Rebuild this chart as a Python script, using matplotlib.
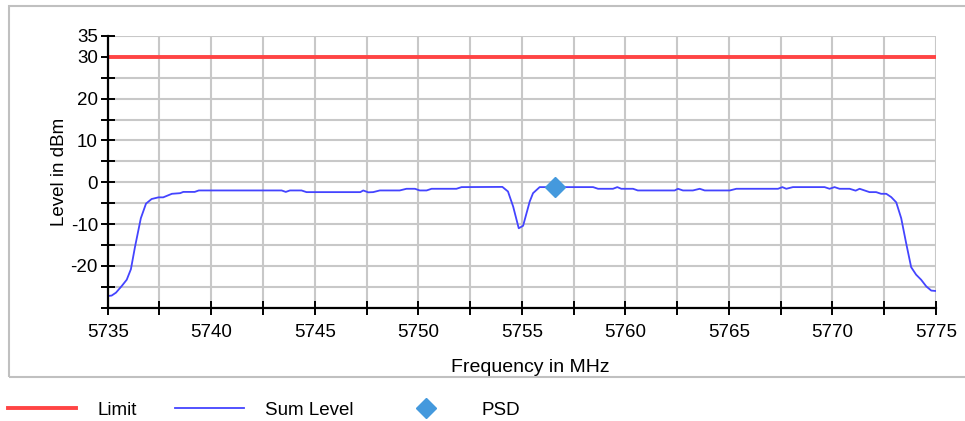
import matplotlib
matplotlib.use("Agg")
import matplotlib.pyplot as plt
from matplotlib.lines import Line2D
from matplotlib.patches import Rectangle

plt.rcParams['font.family'] = ['Liberation Sans', 'DejaVu Sans']

# Data
freq_mhz = [5735.0, 5735.19, 5735.4, 5735.68, 5735.92, 5736.12, 5736.32, 5736.6, 5736.85,
            5737.12, 5737.45, 5737.68, 5738.1, 5738.5, 5738.65, 5739.2, 5739.4, 5743.4,
            5743.6, 5743.8, 5744.36, 5744.6, 5747.2, 5747.34, 5747.58, 5747.82, 5748.14,
            5749.1, 5749.43, 5749.84, 5750.07, 5750.4, 5750.64, 5751.84, 5752.09, 5754.06,
            5754.33, 5754.58, 5754.85, 5755.06, 5755.38, 5755.54, 5755.86, 5758.44, 5758.68,
            5759.4, 5759.61, 5759.8, 5760.37, 5760.6, 5762.38, 5762.54, 5762.78, 5763.26,
            5763.59, 5763.83, 5765.04, 5765.36, 5767.37, 5767.58, 5767.77, 5768.09, 5769.62,
            5769.86, 5770.1, 5770.34, 5770.83, 5771.12, 5771.31, 5771.79, 5772.11, 5772.35,
            5772.6, 5772.84, 5773.08, 5773.32, 5773.56, 5773.8, 5774.04, 5774.28, 5774.53,
            5774.77, 5775.0]
sum_level = [-27.2, -27.1, -26.4, -24.8, -23.3, -20.8, -15.4, -8.6, -5.1,
             -4.0, -3.6, -3.6, -2.75, -2.6, -2.3, -2.3, -1.95, -1.95,
             -2.3, -1.95, -1.95, -2.35, -2.35, -1.95, -2.4, -2.35, -1.95,
             -1.95, -1.55, -1.55, -1.95, -1.95, -1.55, -1.55, -1.15, -1.1,
             -2.2, -5.8, -11.0, -10.4, -4.6, -2.6, -1.15, -1.15, -1.55,
             -1.55, -1.15, -1.55, -1.55, -1.95, -1.95, -1.55, -1.95, -1.95,
             -1.55, -1.95, -1.95, -1.55, -1.55, -1.15, -1.55, -1.15, -1.15,
             -1.55, -1.15, -1.55, -1.55, -2.0, -1.55, -2.35, -2.35, -2.75,
             -2.75, -3.55, -4.8, -8.6, -14.6, -20.3, -22.1, -23.3, -24.9,
             -25.9, -26.0]
limit_level = 30
limit_freq = [5735, 5775]
psd_freq = [5756.6]
psd_level = [-1.2]

x_labels = [5735, 5740, 5745, 5750, 5755, 5760, 5765, 5770, 5775]
y_labels = [-20, -10, 0, 10, 20, 30, 35]

FS = 13.5
W, H = 965, 421
fig = plt.figure(figsize=(W / 100, H / 100), dpi=100)

# outer light frame
fig.patches.append(Rectangle((9 / W, 1 - 377 / H), 1.0, (377 - 6) / H,
                             transform=fig.transFigure, fill=False,
                             edgecolor='#c0c0c0', linewidth=1.5))

ax = fig.add_axes([107.7 / W, 1 - 307.7 / H, (936 - 107.7) / W, (307.7 - 36) / H])

ax.plot(limit_freq, [limit_level, limit_level], color='#ff4444', linewidth=2.8, zorder=3,
        solid_capstyle='butt')
ax.plot(freq_mhz, sum_level, color='#4444ff', linewidth=1.3, zorder=4)
ax.plot(psd_freq, psd_level, linestyle='none', marker='D', markersize=10,
        color='#4499dd', zorder=5)

ax.set_xlim(5735, 5775)
ax.set_ylim(-30, 35)

xt = [5735 + 2.5 * i for i in range(17)]
ax.set_xticks(xt)
ax.set_xticklabels([str(int(v)) if int(v) in x_labels and v == int(v) else '' for v in xt])
yt = [-30 + 5 * i for i in range(14)]
ax.set_yticks(yt)
ax.set_yticklabels([str(v) if v in y_labels else '' for v in yt])
ax.tick_params(direction='inout', length=10, width=1.4, labelsize=FS, colors='black', pad=2)
ax.tick_params(axis='x', pad=7)

ax.grid(True, color='#c8c8c8', linewidth=1.5, zorder=0)
ax.set_axisbelow(True)
for s in ['top', 'right']:
    ax.spines[s].set_visible(False)
for s in ['left', 'bottom']:
    ax.spines[s].set_linewidth(1.6)
    ax.spines[s].set_zorder(6)

ax.set_xlabel('Frequency in MHz', fontsize=14, labelpad=13)
ax.xaxis.label.set_x(0.51)
ax.set_ylabel('Level in dBm', fontsize=FS, labelpad=2)

handles = [Line2D([], [], color='#ff4444', linewidth=2.8),
           Line2D([], [], color='#4444ff', linewidth=1.3),
           Line2D([], [], color='#4499dd', marker='D', markersize=10, linestyle='none')]
fig.legend(handles, ['Limit', 'Sum Level', 'PSD'], loc='center left',
           bbox_to_anchor=(8 / W, 11 / H), ncol=3, frameon=False, fontsize=FS,
           borderpad=0, borderaxespad=0,
           handlelength=3.65, handletextpad=1.12, columnspacing=2.05)

fig.savefig('out.png', dpi=100)
